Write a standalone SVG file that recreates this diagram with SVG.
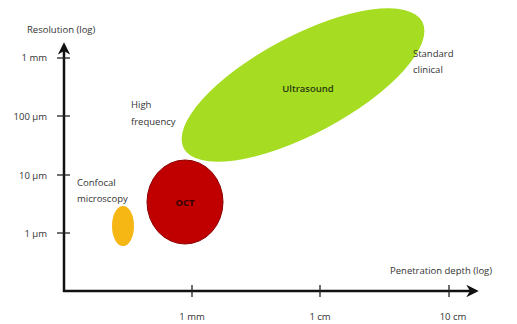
<svg xmlns="http://www.w3.org/2000/svg" width="517" height="324" viewBox="0 0 517 324">
<style>
text{font-family:"Open Sans","Liberation Sans",sans-serif;font-size:9.5px;fill:#333}
.ax{stroke:#111;stroke-width:2.5;fill:none}
.tk{stroke:#222;stroke-width:1.3}
.c{text-anchor:middle}
.r{text-anchor:end}
</style>
<defs>
<marker id="ah" viewBox="0 0 10 10" refX="7" refY="5" markerWidth="5" markerHeight="5" orient="auto" markerUnits="strokeWidth">
<path d="M0,0 L10,5 L0,10 L3,5 Z" fill="#111"/>
</marker>
</defs>
<rect width="517" height="324" fill="#fff"/>
<g id="ultrasound">
<ellipse cx="303" cy="85" rx="135" ry="49" transform="rotate(-28 303 85)" fill="#a6dd22"/>
<text class="c" x="308" y="92" style="font-weight:600;fill:#2a3a10">Ultrasound</text>
</g>
<g id="oct">
<ellipse cx="185" cy="202" rx="38" ry="42" fill="#c00000" stroke="#8a0000" stroke-width="1"/>
<text class="c" x="185" y="206" style="font-weight:700;fill:#300">OCT</text>
</g>
<g id="confocal">
<ellipse cx="123" cy="226" rx="11" ry="20" fill="#f6b614"/>
</g>
<g id="connectors">
<line class="ax" x1="64" y1="292" x2="64" y2="46" marker-end="url(#ah)"/>
<line class="ax" x1="63" y1="291" x2="475" y2="291" marker-end="url(#ah)"/>
<line class="tk" x1="57" y1="58" x2="70" y2="58"/>
<line class="tk" x1="57" y1="116" x2="70" y2="116"/>
<line class="tk" x1="57" y1="175" x2="70" y2="175"/>
<line class="tk" x1="57" y1="233" x2="70" y2="233"/>
<line class="tk" x1="192" y1="285" x2="192" y2="297"/>
<line class="tk" x1="320" y1="285" x2="320" y2="297"/>
<line class="tk" x1="449" y1="285" x2="449" y2="297"/>
</g>
<g id="labels">
<text x="27" y="33">Resolution (log)</text>
<text class="r" x="47" y="61">1 mm</text>
<text class="r" x="47" y="120">100 µm</text>
<text class="r" x="47" y="179">10 µm</text>
<text class="r" x="47" y="237">1 µm</text>
<text class="c" x="192" y="320">1 mm</text>
<text class="c" x="320" y="320">1 cm</text>
<text class="c" x="453" y="320">10 cm</text>
<text x="390" y="274">Penetration depth (log)</text>
<text x="131" y="108">High</text>
<text x="131" y="125">frequency</text>
<text x="413" y="57">Standard</text>
<text x="413" y="73">clinical</text>
<text x="77" y="186">Confocal</text>
<text x="77" y="202">microscopy</text>
</g>
</svg>
